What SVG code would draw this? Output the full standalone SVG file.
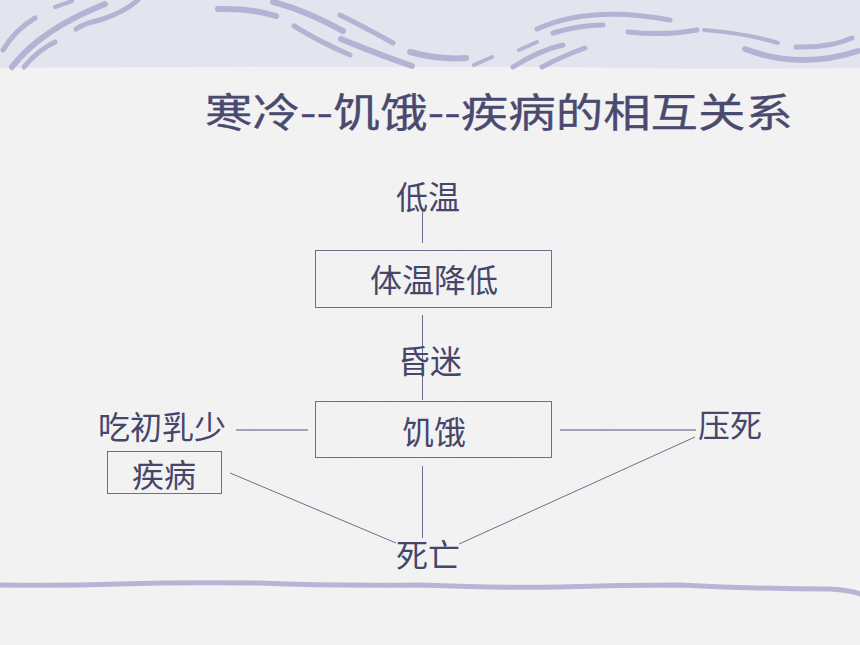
<svg xmlns="http://www.w3.org/2000/svg" width="860" height="645" viewBox="0 0 860 645">
<defs>
<style>
.lbl{font-family:"Noto Sans CJK SC","Noto Sans CJK JP",sans-serif;font-size:32px;fill:#46466a;text-anchor:middle}
.title{font-family:"Noto Sans CJK SC","Noto Sans CJK JP",sans-serif;font-size:40px;fill:#4a4a70;stroke:#4a4a70;stroke-width:0.3}
.box{fill:none;stroke:#6e6e8e;stroke-width:1}
.ln{stroke:#6e6e8e;stroke-width:1;fill:none}
.thick{stroke:#a2a2bf;stroke-width:2.2;fill:none}
.brush{fill:none;stroke:#b3b3d3;stroke-linecap:round}
</style>
<filter id="tex" x="0" y="0" width="100%" height="100%">
<feTurbulence type="fractalNoise" baseFrequency="0.9 0.25" numOctaves="2" seed="3"/>
<feColorMatrix type="matrix" values="0 0 0 0 0.6  0 0 0 0 0.6  0 0 0 0 0.62  0 0 0 0.1 0"/>
</filter>
</defs>
<rect x="0" y="0" width="860" height="645" fill="#f4f4f4"/>
<rect x="0" y="0" width="860" height="645" filter="url(#tex)"/>
<path d="M0 0 H860 V68 Q700 70 560 67 Q300 66 0 68 Z" fill="#e4e4ef"/>
<g id="banner">
<path class="brush" stroke-width="5" d="M3 50 Q15 30 35 18"/>
<path class="brush" stroke-width="6" d="M12 67 Q40 30 105 4"/>
<path class="brush" stroke-width="5" d="M24 67 Q38 50 55 42"/>
<path class="brush" stroke-width="4" d="M55 7 L72 1"/>
<path class="brush" stroke-width="5" d="M76 29 Q85 23 100 20 Q125 12 138 0"/>
<path class="brush" stroke-width="6" d="M218 9 Q250 8 276 16"/>
<path class="brush" stroke-width="6" d="M273 2 Q305 10 343 31"/>
<path class="brush" stroke-width="5" d="M294 26 Q320 42 350 55"/>
<path class="brush" stroke-width="5" d="M340 15 Q370 30 393 43"/>
<path class="brush" stroke-width="6" d="M341 39 Q380 55 412 66"/>
<path class="brush" stroke-width="6" d="M410 52 Q440 60 466 58"/>
<path class="brush" stroke-width="4" d="M474 65 L492 57"/>
<path class="brush" stroke-width="4" d="M519 50 L537 42"/>
<path class="brush" stroke-width="5" d="M513 67 Q540 50 563 45"/>
<path class="brush" stroke-width="5" d="M542 67 Q565 55 585 48"/>
<path class="brush" stroke-width="5" d="M537 29 Q590 5 670 20"/>
<path class="brush" stroke-width="5" d="M553 33 Q580 25 603 25"/>
<path class="brush" stroke-width="5" d="M628 32 Q665 36 697 30"/>
<path class="brush" stroke-width="4" d="M704 30 Q745 33 778 43"/>
<path class="brush" stroke-width="6" d="M745 49 Q800 70 858 51"/>
<path class="brush" stroke-width="5" d="M796 47 Q830 48 852 38"/>
</g>
<path d="M0 585 Q60 586 120 584 T260 583 Q330 586 420 585 Q500 588 560 587 Q620 585 680 585 Q760 589 830 589 Q850 590 860 594" fill="none" stroke="#b6b6d4" stroke-width="5" stroke-linecap="round"/>
<text class="title" x="205" y="127" textLength="588" lengthAdjust="spacingAndGlyphs">寒冷--饥饿--疾病的相互关系</text>
<g id="connectors">
<line class="ln" x1="422.5" y1="208" x2="422.5" y2="243"/>
<line class="ln" x1="422.5" y1="315" x2="422.5" y2="400"/>
<line class="ln" x1="422.5" y1="466" x2="422.5" y2="538"/>
<line class="thick" x1="236" y1="430" x2="308" y2="430"/>
<line class="thick" x1="560" y1="430" x2="696" y2="430"/>
<line class="ln" x1="230" y1="473" x2="396" y2="543"/>
<line class="ln" x1="695" y1="437" x2="459" y2="544"/>
</g>
<g id="node-diwen"><text class="lbl" x="428" y="209">低温</text></g>
<g id="node-tiwen"><rect class="box" x="315.5" y="250.5" width="236" height="57"/><text class="lbl" x="434" y="292">体温降低</text></g>
<g id="node-hunmi"><text class="lbl" x="430" y="373">昏迷</text></g>
<g id="node-jie"><rect class="box" x="315.5" y="401.5" width="236" height="56"/><text class="lbl" x="434" y="444">饥饿</text></g>
<g id="node-chu"><text class="lbl" x="162" y="439">吃初乳少</text></g>
<g id="node-yasi"><text class="lbl" x="730" y="437">压死</text></g>
<g id="node-jibing"><rect class="box" x="107.5" y="451.5" width="114" height="42"/><text class="lbl" x="164" y="487">疾病</text></g>
<g id="node-siwang"><text class="lbl" x="428" y="567">死亡</text></g>
</svg>
